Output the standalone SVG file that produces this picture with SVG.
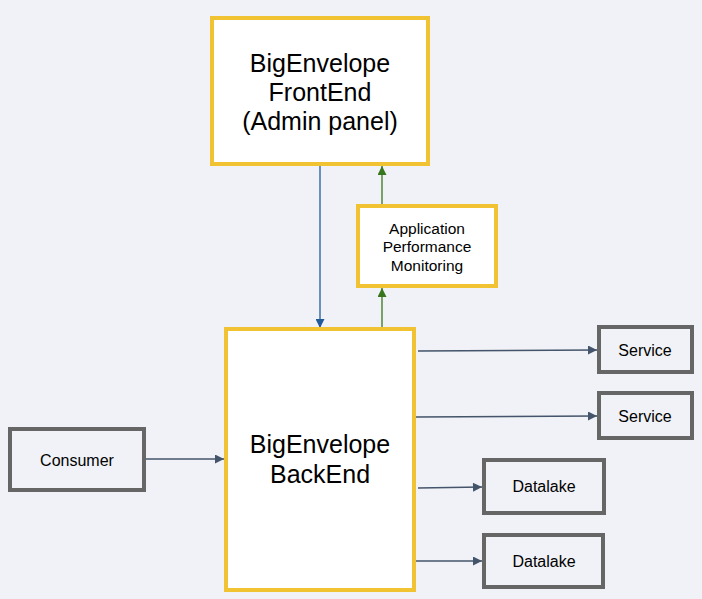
<svg xmlns="http://www.w3.org/2000/svg" width="702" height="599" viewBox="0 0 702 599">
<style>
.bg{fill:#f0f2f7}
.y{fill:#ffffff;stroke:#f1c232;stroke-width:4}
.g{fill:#f0f2f7;stroke:#666666;stroke-width:4}
text{font-family:"Liberation Sans",Arial,sans-serif;fill:#000;text-anchor:middle}
.big{font-size:25px}
.mid{font-size:15.5px}
.sm{font-size:16px}
.c{fill:none;stroke-width:1.3}
.dk{stroke:#44546a}
.bl{stroke:#1f5b99}
.gr{stroke:#38761d}
</style>
<defs>
<marker id="aDk" viewBox="0 0 10 10" refX="10" refY="5" markerWidth="11" markerHeight="9" markerUnits="userSpaceOnUse" orient="auto"><path d="M0,0L10,5L0,10z" fill="#44546a"/></marker>
<marker id="aBl" viewBox="0 0 10 10" refX="10" refY="5" markerWidth="11" markerHeight="9" markerUnits="userSpaceOnUse" orient="auto"><path d="M0,0L10,5L0,10z" fill="#1f5b99"/></marker>
<marker id="aGr" viewBox="0 0 10 10" refX="10" refY="5" markerWidth="11" markerHeight="9" markerUnits="userSpaceOnUse" orient="auto"><path d="M0,0L10,5L0,10z" fill="#38761d"/></marker>
</defs>
<rect class="bg" x="0" y="0" width="702" height="599"/>
<g id="connectors">
<line class="c bl" x1="320" y1="166" x2="320" y2="328" marker-end="url(#aBl)"/>
<line class="c gr" x1="382" y1="204" x2="382" y2="166" marker-end="url(#aGr)"/>
<line class="c gr" x1="382" y1="327" x2="382" y2="288" marker-end="url(#aGr)"/>
<line class="c dk" x1="146" y1="459" x2="224" y2="459" marker-end="url(#aDk)"/>
<line class="c dk" x1="418" y1="351" x2="597" y2="350" marker-end="url(#aDk)"/>
<line class="c dk" x1="416" y1="417" x2="597" y2="416" marker-end="url(#aDk)"/>
<line class="c dk" x1="418" y1="488" x2="482" y2="487" marker-end="url(#aDk)"/>
<line class="c dk" x1="412" y1="561" x2="482" y2="561" marker-end="url(#aDk)"/>
</g>
<g id="frontend">
<rect class="y" x="212" y="18" width="216" height="146"/>
<text class="big" x="320" y="72">BigEnvelope</text>
<text class="big" x="320" y="101">FrontEnd</text>
<text class="big" x="320" y="130">(Admin panel)</text>
</g>
<g id="apm">
<rect class="y" x="358" y="206" width="138" height="80"/>
<text class="mid" x="427" y="234">Application</text>
<text class="mid" x="427" y="252">Performance</text>
<text class="mid" x="427" y="271">Monitoring</text>
</g>
<g id="backend">
<rect class="y" x="226" y="329" width="188" height="261"/>
<text class="big" x="320" y="453">BigEnvelope</text>
<text class="big" x="320" y="483">BackEnd</text>
</g>
<g id="consumer">
<rect class="g" x="10" y="429" width="134" height="61"/>
<text class="sm" x="77" y="466">Consumer</text>
</g>
<g id="service1">
<rect class="g" x="599" y="327" width="93" height="45"/>
<text class="sm" x="645" y="356">Service</text>
</g>
<g id="service2">
<rect class="g" x="599" y="393" width="93" height="45"/>
<text class="sm" x="645" y="422">Service</text>
</g>
<g id="datalake1">
<rect class="g" x="484" y="460" width="120" height="53"/>
<text class="sm" x="544" y="492">Datalake</text>
</g>
<g id="datalake2">
<rect class="g" x="484" y="535" width="119" height="52"/>
<text class="sm" x="544" y="567">Datalake</text>
</g>
</svg>
